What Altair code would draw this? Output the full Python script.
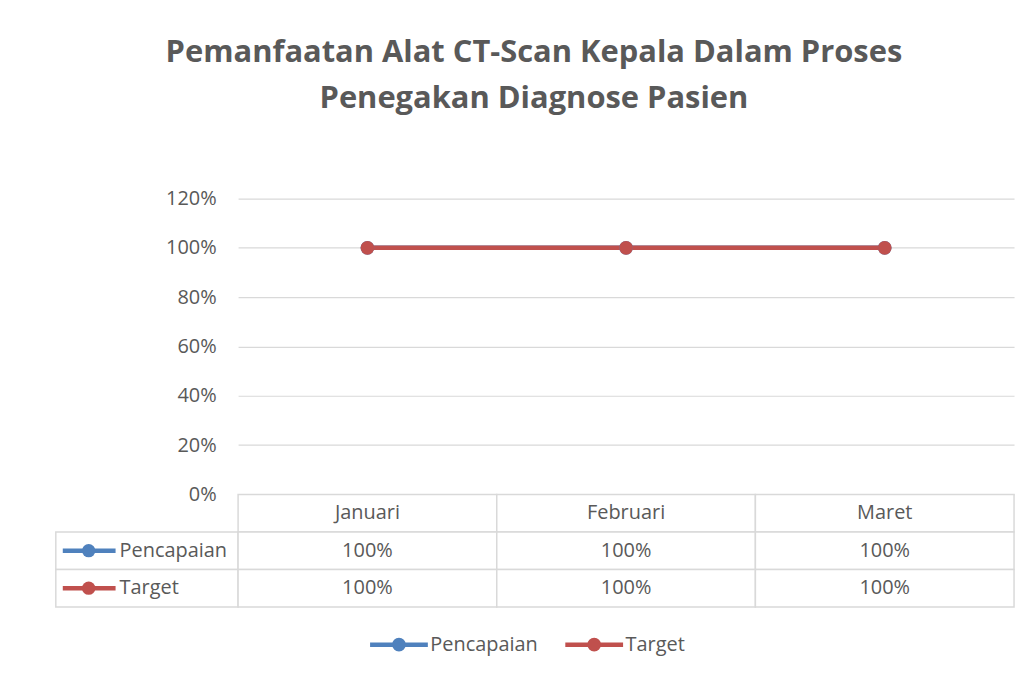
import altair as alt
import pandas as pd

months = ["Januari", "Februari", "Maret"]
series = ["Pencapaian", "Target"]
pencapaian = [1.0, 1.0, 1.0]
target = [1.0, 1.0, 1.0]
colors = ["#4f81bd", "#c0504d"]
y_ticks = [0, 0.2, 0.4, 0.6, 0.8, 1.0, 1.2]
title_lines = ["Pemanfaatan Alat CT-Scan Kepala Dalam Proses", "Penegakan Diagnose Pasien"]

FONT = "Open Sans"
GRAY = "#595959"
GRID = "#d9d9d9"

rows = []
for s, vals in zip(series, [pencapaian, target]):
    for m, v in zip(months, vals):
        rows.append({"series": s, "month": m, "value": v})
df = pd.DataFrame(rows)

row_order = ["hdr"] + series
cells = [{"row": "hdr", "month": m, "label": m} for m in months]
for s, vals in zip(series, [pencapaian, target]):
    for m, v in zip(months, vals):
        cells.append({"row": s, "month": m, "label": f"{v:.0%}"})
cells_df = pd.DataFrame(cells)
labels_df = pd.DataFrame({"row": series, "series": series, "col": ["c"] * len(series)})

color_scale = alt.Scale(domain=series, range=colors)

# ---- line chart ----
base = alt.Chart(df).encode(
    x=alt.X("month:N", sort=months, axis=None,
            scale=alt.Scale(type="point", domain=months, padding=0.5)),
    y=alt.Y("value:Q", scale=alt.Scale(domain=[0, 1.2]),
            axis=alt.Axis(values=y_ticks, format=".0%", title=None, domain=False,
                          ticks=False, labelPadding=22, gridColor=GRID, gridWidth=1.2,
                          labelFontSize=20, labelColor=GRAY, labelFont=FONT)),
    color=alt.Color("series:N", scale=color_scale,
                    legend=alt.Legend(title=None, orient="none", legendX=313, legendY=416)),
)
line_chart = (base.mark_line(strokeWidth=4.5) +
              base.mark_point(filled=True, size=190, opacity=1)).properties(width=779, height=297)

spacer = alt.Chart(pd.DataFrame({"k": [0]})).mark_point(opacity=0).encode(
    x=alt.value(0), y=alt.value(0)).properties(width=183, height=297)

# ---- data table ----
y_rows = alt.Y("row:N", sort=row_order, axis=None,
               scale=alt.Scale(domain=row_order, paddingInner=0, paddingOuter=0))
tbase = alt.Chart(cells_df).encode(
    x=alt.X("month:N", sort=months, axis=None,
            scale=alt.Scale(domain=months, paddingInner=0, paddingOuter=0)),
    y=y_rows,
)
value_table = (tbase.mark_rect(fill="white", stroke=GRID, strokeWidth=1.5) +
               tbase.mark_text(font=FONT, fontSize=20, color=GRAY).encode(text="label:N")
               ).properties(width=779, height=113)

lbase = alt.Chart(labels_df).encode(y=y_rows)
label_table = (
    lbase.mark_rect(fill="white", stroke=GRID, strokeWidth=1.5).encode(
        x=alt.X("col:N", axis=None, scale=alt.Scale(paddingInner=0, paddingOuter=0)))
    + lbase.mark_rule(strokeWidth=4.5).encode(
        x=alt.value(7), x2=alt.value(60),
        color=alt.Color("series:N", scale=color_scale, legend=None))
    + lbase.mark_point(filled=True, size=180, opacity=1).encode(
        x=alt.value(33), color=alt.Color("series:N", scale=color_scale, legend=None))
    + lbase.mark_text(align="left", font=FONT, fontSize=20, color=GRAY).encode(
        x=alt.value(64), text="series:N")
).properties(width=183, height=113)

symbol_path = ("M-1,0L1,0M0,-0.16A0.16,0.16,0,1,1,0,0.16"
               "A0.16,0.16,0,1,1,0,-0.16Z")

chart = alt.concat(spacer, line_chart, label_table, value_table,
                   columns=2, spacing=0, bounds="flush").resolve_scale(
    color="shared").resolve_legend(color="shared").properties(
    title=alt.Title(title_lines, fontSize=31, font=FONT, fontWeight="bold",
                    color=GRAY, anchor="middle", offset=74, lineHeight=46),
    padding={"left": 45, "top": 28, "right": 10, "bottom": 10},
).configure_view(stroke=None).configure_legend(
    labelFontSize=20, labelColor=GRAY,
    labelFont=FONT, symbolType=symbol_path, symbolSize=3364, symbolStrokeWidth=4.5,
    labelOffset=0, columnPadding=18, direction="horizontal",
)

chart.save("out.html", embed_options={"renderer": "svg", "actions": False})
